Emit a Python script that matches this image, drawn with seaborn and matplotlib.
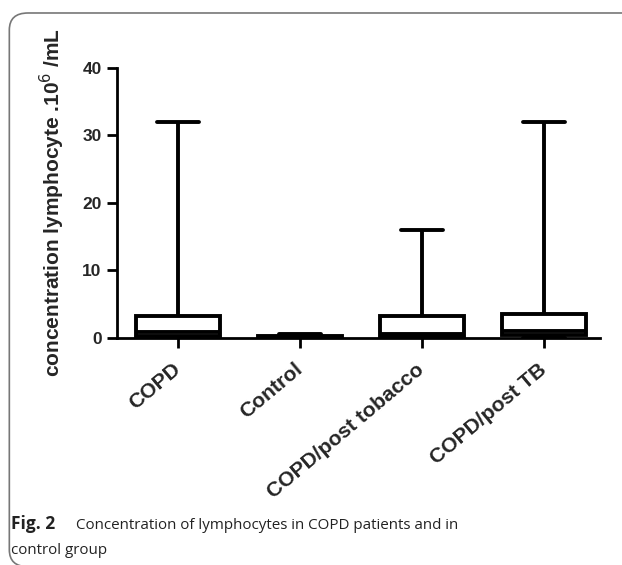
import numpy as np
import pandas as pd
import seaborn as sns
import matplotlib
matplotlib.use("Agg")
import matplotlib.pyplot as plt
from matplotlib.patches import FancyBboxPatch

categories = ["COPD", "Control", "COPD/post tobacco", "COPD/post TB"]
# five-number summaries: min, Q1, median, Q3, max
copd = [0.0, 0.35, 0.85, 3.2, 32.0]
control = [0.0, 0.05, 0.15, 0.3, 0.55]
copd_tobacco = [0.0, 0.15, 0.55, 3.2, 16.0]
copd_tb = [0.0, 0.4, 1.0, 3.5, 32.0]
y_ticks = [0, 10, 20, 30, 40]

values = [copd, control, copd_tobacco, copd_tb]
df = pd.DataFrame({
    "group": np.repeat(categories, [len(v) for v in values]),
    "value": np.concatenate(values),
})

sns.set_style("ticks")
plt.rcParams["font.family"] = ["Liberation Sans", "DejaVu Sans"]

fig = plt.figure(figsize=(6.22, 5.65), dpi=100)
ax = fig.add_axes([0.188, 0.402, 0.777, 0.478])

sns.boxplot(data=df, x="group", y="value", order=categories, whis=(0, 100),
            width=0.69, color="white", linecolor="black", linewidth=2.8,
            ax=ax, showfliers=False)

ax.set_ylim(0, 40)
ax.set_xlim(-0.5, 3.46)
ax.set_yticks(y_ticks)
ax.set_yticklabels([str(t) for t in y_ticks], fontsize=12.5, fontweight="bold")
ax.set_xticks(range(len(categories)))
ax.set_xticklabels(categories, fontsize=15.2, fontweight="bold", rotation=40,
                   ha="right", va="center", rotation_mode="anchor")
ax.set_xlabel("")
ax.set_ylabel("concentration lymphocyte .10$^6$ /mL", fontsize=15,
              fontweight="bold", labelpad=11)
for s in ["top", "right"]:
    ax.spines[s].set_visible(False)
for s in ["left", "bottom"]:
    ax.spines[s].set_linewidth(2)
    ax.spines[s].set_color("black")
ax.tick_params(axis="both", width=2, length=7, color="black", pad=4)
ax.tick_params(axis="x", pad=14)

# outer frame and caption
frame = FancyBboxPatch((0.015, -0.003), 1.2, 0.98,
                       boxstyle="round,pad=0,rounding_size=0.03",
                       transform=fig.transFigure, fill=False,
                       edgecolor="#777777", linewidth=1.2, clip_on=False)
fig.patches.append(frame)

cap_font = ["Open Sans", "DejaVu Sans"]
fig.text(0.018, 0.063, "Fig. 2", fontsize=12.5, fontweight="bold",
         family=cap_font, color="#222222", va="baseline")
fig.text(0.122, 0.063, "Concentration of lymphocytes in COPD patients and in",
         fontsize=10.9, family=cap_font, color="#222222", va="baseline")
fig.text(0.018, 0.019, "control group", fontsize=10.9, family=cap_font,
         color="#222222", va="baseline")

fig.savefig("out.png", dpi=100)
